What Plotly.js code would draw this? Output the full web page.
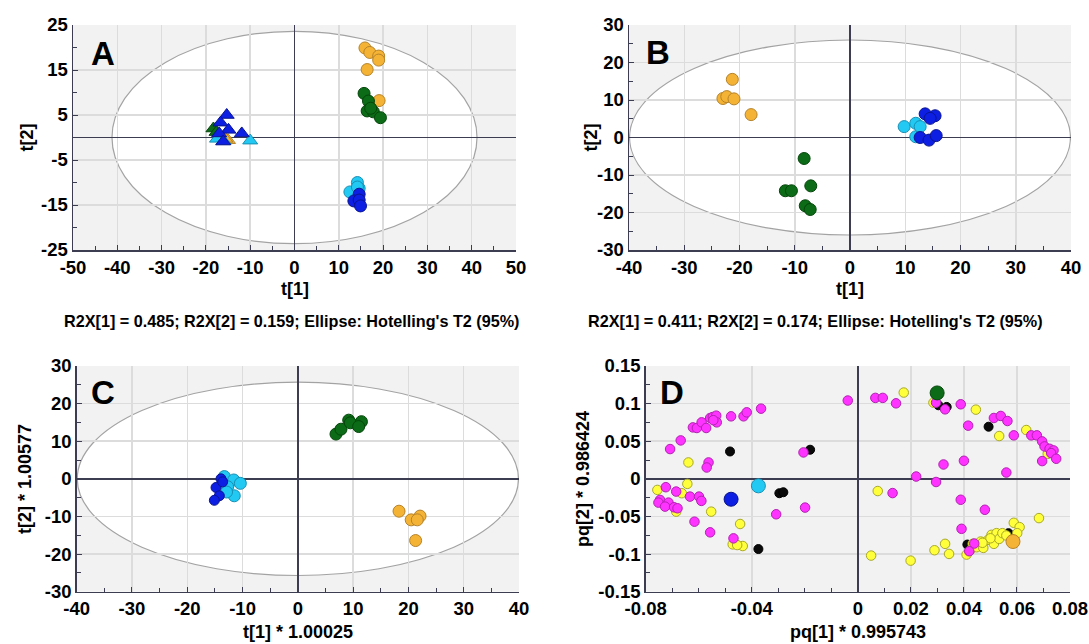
<!DOCTYPE html>
<html>
<head>
<meta charset="utf-8">
<script src="https://cdn.plot.ly/plotly-3.0.1.min.js"></script>
<style>html,body{margin:0;padding:0;background:#fff;}#chart{width:1089px;height:644px;}</style>
</head>
<body>
<div id="chart"></div>
<script>
// ---------- Panel A (scores, t[1] vs t[2]) ----------
const aOrangeX = [15.9, 17.0, 19.0, 19.0, 16.4, 19.1];
const aOrangeY = [19.9, 18.9, 18.1, 17.2, 15.1, 8.2];
const aGreenX = [15.7, 16.7, 16.4, 17.8, 19.4, 17.2];
const aGreenY = [9.8, 8.1, 5.9, 5.7, 4.4, 6.5];
const aCyanX = [14.2, 12.5, 14.6, 14.2];
const aCyanY = [-10.0, -12.1, -11.3, -11.0];
const aBlueX = [14.6, 13.4, 14.6, 14.9];
const aBlueY = [-12.6, -14.1, -13.9, -15.2];
const aTriGreenX = [-18.3, -17.6, -17.0];
const aTriGreenY = [2.0, 1.2, 0.2];
const aTriOrangeX = [-15.0, -15.6];
const aTriOrangeY = [-0.6, -0.3];
const aTriCyanX = [-10.0, -17.5, -16.0];
const aTriCyanY = [-0.7, -0.3, -0.8];
const aTriBlueX = [-15.3, -16.7, -14.9, -11.9, -17.0, -16.1];
const aTriBlueY = [5.0, 3.3, 1.7, 0.9, 0.9, -0.9];
const aEllipse = [41.2, 23.6];
const aXTicks = [-50, -40, -30, -20, -10, 0, 10, 20, 30, 40, 50];
const aYTicks = [-25, -15, -5, 5, 15, 25];
const aYMinor = [-20, -10, 0, 10, 20];

// ---------- Panel B ----------
const bOrangeX = [-21.3, -23.0, -22.3, -21.0, -17.9];
const bOrangeY = [15.5, 10.4, 10.9, 10.3, 6.1];
const bGreenX = [-8.3, -11.7, -10.6, -7.1, -8.1, -7.2];
const bGreenY = [-5.6, -14.2, -14.2, -12.9, -18.2, -19.2];
const bCyanX = [9.8, 11.9, 11.9, 12.7];
const bCyanY = [2.9, 3.8, 0.2, 2.9];
const bBlueX = [13.6, 15.4, 14.5, 12.7, 14.3, 15.6];
const bBlueY = [6.3, 5.8, 5.1, 0.0, -0.7, 0.5];
const bEllipse = [39.9, 26.0];
const bXTicks = [-40, -30, -20, -10, 0, 10, 20, 30, 40];
const bYTicks = [-30, -20, -10, 0, 10, 20, 30];

// ---------- Panel C ----------
const cGreenX = [6.9, 7.8, 9.2, 9.5, 11.5, 11.0];
const cGreenY = [11.9, 13.2, 15.6, 14.9, 15.2, 13.9];
const cOrangeX = [18.3, 20.5, 22.1, 21.6, 21.3];
const cOrangeY = [-8.6, -10.9, -9.9, -10.9, -16.4];
const cCyanX = [-13.3, -11.6, -10.4, -12.7, -11.5, -12.9];
const cCyanY = [0.6, -0.3, -1.2, -2.1, -4.5, -3.5];
const cBlueX = [-13.9, -14.8, -14.2, -15.1, -13.6];
const cBlueY = [0.0, -2.3, -4.5, -5.7, -0.8];
const cEllipse = [39.9, 25.7];
const cXTicks = [-40, -30, -20, -10, 0, 10, 20, 30, 40];
const cYTicks = [-30, -20, -10, 0, 10, 20, 30];

// ---------- Panel D (loadings) ----------
const dMagentaX = [-0.0708, -0.0668, -0.0622, -0.0607, -0.0589, -0.0572, -0.0557, -0.0547, -0.0534, -0.0532, -0.0545, -0.0478, -0.0431, -0.0419, -0.0365, -0.0038,
  -0.0563, -0.0570, -0.0205,
  -0.0724, -0.0685, -0.0746, -0.0752, -0.0714, -0.0727, -0.0693, -0.0680, -0.0633, -0.0599, -0.0590, -0.0616, -0.0557, -0.0469, -0.0308, -0.0199,
  0.0066, 0.0094, 0.0144, 0.0295, 0.0329, 0.0388, 0.0416, 0.0513, 0.0539, 0.0564, 0.0588, 0.0654, 0.0675, 0.0695, 0.0704, 0.0723, 0.0738, 0.0729, 0.0748, 0.0695,
  0.0323, 0.0400, 0.0560, 0.0220, 0.0295, 0.0131, 0.0388, 0.0479, 0.0391, 0.0439, 0.0420];
const dMagentaY = [0.0396, 0.0511, 0.0684, 0.0676, 0.0751, 0.0676, 0.0809, 0.0822, 0.0840, 0.0751, 0.0780, 0.0831, 0.0831, 0.0884, 0.0933, 0.1041,
  0.0218, 0.0151, 0.0351,
  -0.0111, -0.0169, -0.0280, -0.0316, -0.0316, -0.0369, -0.0378, -0.0391, -0.0236, -0.0236, -0.0293, -0.0569, -0.0711, -0.0791, -0.0471, -0.0382,
  0.1076, 0.1076, 0.1004, 0.1013, 0.0924, 0.0991, 0.0707, 0.0809, 0.0836, 0.0769, 0.0578, 0.0578, 0.0578, 0.0498, 0.0431, 0.0400, 0.0378, 0.0342, 0.0267, 0.0236,
  0.0191, 0.0240, 0.0084, 0.0031, -0.0042, -0.0189, -0.0278, -0.0411, -0.0664, -0.0860, -0.0962];
const dYellowX = [-0.0639, -0.0643, -0.0756, -0.0664, -0.0685, -0.0553, -0.0444, -0.0472, -0.0434, -0.0455,
  0.0173, 0.0285, 0.0445, 0.0533, 0.0635, 0.0716, 0.0075, 0.0050, 0.0199, 0.0289, 0.0329, 0.0344, 0.0410, 0.0423, 0.0433, 0.0448, 0.0463, 0.0473, 0.0491, 0.0504, 0.0513, 0.0523, 0.0533, 0.0545, 0.0560, 0.0588, 0.0610, 0.0601, 0.0683, 0.0500, 0.0470];
const dYellowY = [0.0218, -0.0067, -0.0147, -0.0191, -0.0436, -0.0436, -0.0600, -0.0871, -0.0893, -0.0880,
  0.1147, 0.1013, 0.0920, 0.0569, 0.0649, 0.0333, -0.0162, -0.1020, -0.1087, -0.0949, -0.0864, -0.0998, -0.1007, -0.0953, -0.0864, -0.0909, -0.0833, -0.0918, -0.0811, -0.0744, -0.0864, -0.0722, -0.0798, -0.0722, -0.0753, -0.0584, -0.0642, -0.0722, -0.0522, -0.0790, -0.0850];
const dBlackX = [-0.0482, -0.0180, -0.0296, -0.0281, -0.0375, 0.0304, 0.0335, 0.0493, 0.0568, 0.0413];
const dBlackY = [0.0364, 0.0387, -0.0191, -0.0178, -0.0933, 0.0978, 0.0956, 0.0693, -0.0722, -0.0873];
const dGroupX = [0.0299, -0.0478, -0.0375, 0.0585];
const dGroupY = [0.1142, -0.0271, -0.0093, -0.0833];
const dGroupNames = ['green', 'blue', 'cyan', 'orange'];
const dXTicks = [-0.08, -0.04, 0, 0.02, 0.04, 0.06, 0.08];
const dXTickText = ['-0.08', '-0.04', '0', '0.02', '0.04', '0.06', '0.08'];
const dYTicks = [-0.15, -0.1, -0.05, 0, 0.05, 0.1, 0.15];
const dYTickText = ['-0.15', '-0.1', '-0.05', '0', '0.05', '0.1', '0.15'];

const R2X_A = "R2X[1] = 0.485; R2X[2] = 0.159; Ellipse: Hotelling's T2 (95%)";
const R2X_B = "R2X[1] = 0.411; R2X[2] = 0.174; Ellipse: Hotelling's T2 (95%)";

// ---------- styles ----------
const FONT = 'Liberation Sans, Arial, Helvetica, sans-serif';
const COL = {
  orange: ['#f5b335', '#b5832a'],
  green: ['#0b6b16', '#05460b'],
  cyan: ['#21c9f3', '#1890b5'],
  blue: ['#0c1fe3', '#0a1490'],
  magenta: ['#ff33ff', '#b022b0'],
  yellow: ['#ffff3c', '#a8a82a'],
  black: ['#0a0a0a', '#000000']
};
const W = 1089, H = 644;
const bold = s => '<b>' + s + '</b>';

function pts(x, y, color, size, xa, ya, symbol) {
  return {
    type: 'scatter', mode: 'markers', x: x, y: y, xaxis: xa, yaxis: ya,
    hoverinfo: 'x+y', showlegend: false,
    marker: { color: COL[color][0], size: size, symbol: symbol || 'circle',
              line: { color: COL[color][1], width: 1 } }
  };
}

const data = [
  pts(aOrangeX, aOrangeY, 'orange', 12, 'x', 'y'),
  pts(aGreenX, aGreenY, 'green', 12, 'x', 'y'),
  pts(aCyanX, aCyanY, 'cyan', 12, 'x', 'y'),
  pts(aBlueX, aBlueY, 'blue', 12, 'x', 'y'),
  pts(aTriGreenX, aTriGreenY, 'green', 13, 'x', 'y', 'triangle-up'),
  pts(aTriOrangeX, aTriOrangeY, 'orange', 13, 'x', 'y', 'triangle-up'),
  pts(aTriCyanX, aTriCyanY, 'cyan', 13, 'x', 'y', 'triangle-up'),
  pts(aTriBlueX, aTriBlueY, 'blue', 13, 'x', 'y', 'triangle-up'),

  pts(bOrangeX, bOrangeY, 'orange', 12, 'x2', 'y2'),
  pts(bGreenX, bGreenY, 'green', 12, 'x2', 'y2'),
  pts(bCyanX, bCyanY, 'cyan', 12, 'x2', 'y2'),
  pts(bBlueX, bBlueY, 'blue', 12, 'x2', 'y2'),

  pts(cGreenX, cGreenY, 'green', 12, 'x3', 'y3'),
  pts(cOrangeX, cOrangeY, 'orange', 12, 'x3', 'y3'),
  pts(cCyanX, cCyanY, 'cyan', 12, 'x3', 'y3'),
  pts(cBlueX, cBlueY, 'blue', 10, 'x3', 'y3'),

  pts(dBlackX, dBlackY, 'black', 9, 'x4', 'y4'),
  pts(dYellowX, dYellowY, 'yellow', 9.5, 'x4', 'y4'),
  pts(dMagentaX, dMagentaY, 'magenta', 9.5, 'x4', 'y4'),
  {
    type: 'scatter', mode: 'markers', x: dGroupX, y: dGroupY, xaxis: 'x4', yaxis: 'y4',
    showlegend: false, hoverinfo: 'x+y',
    marker: { size: 14, color: dGroupNames.map(n => COL[n][0]),
              line: { color: dGroupNames.map(n => COL[n][1]), width: 1 } }
  }
];

const tickFont = { family: FONT, size: 18.5, color: '#000', weight: 'bold' };
const AXC = '#3d3d52';
function xAx(domain, range, tickvals, ticktext, minorDtick, anchor) {
  return {
    domain: domain, range: range, anchor: anchor, tickmode: 'array', tickvals: tickvals,
    ticktext: (ticktext || tickvals.map(String)).map(bold),
    showgrid: true, gridcolor: '#dcdcdc', gridwidth: 1.5,
    zeroline: true, zerolinecolor: AXC, zerolinewidth: 1.5,
    showline: true, linecolor: AXC, linewidth: 1.5, mirror: false,
    ticks: 'inside', ticklen: 5, tickcolor: AXC, tickwidth: 1,
    tickfont: tickFont, fixedrange: true,
    minor: { dtick: minorDtick, ticks: 'inside', ticklen: 4, tickcolor: AXC, showgrid: false }
  };
}
function yAx(domain, range, tickvals, ticktext, minor, anchor) {
  const ax = xAx(domain, range, tickvals, ticktext, null, anchor);
  ax.minor = Object.assign({ ticks: 'inside', ticklen: 4, tickcolor: AXC, showgrid: false }, minor);
  return ax;
}
function px2x(p) { return p / W; }
function px2y(p) { return 1 - p / H; }

const domA = { x: [px2x(73), px2x(516)], y: [px2y(250), px2y(25)] };
const domB = { x: [px2x(629), px2x(1071)], y: [px2y(250), px2y(25)] };
const domC = { x: [px2x(76.7), px2x(519)], y: [px2y(591.7), px2y(366)] };
const domD = { x: [px2x(645.7), px2x(1070)], y: [px2y(591.7), px2y(366)] };

function ellipse(xr, yr, ab) {
  return { type: 'circle', xref: xr, yref: yr, x0: -ab[0], x1: ab[0], y0: -ab[1], y1: ab[1],
           fillcolor: '#ffffff', line: { color: '#a3a3a3', width: 1.2 }, layer: 'below' };
}

function ann(text, xp, yp, size, angle) {
  return { text: bold(text), xref: 'paper', yref: 'paper', x: px2x(xp), y: px2y(yp),
           xanchor: 'center', yanchor: 'middle', showarrow: false, textangle: angle || 0,
           font: { family: FONT, size: size, color: '#000' } };
}

const layout = {
  width: W, height: H, autosize: false,
  margin: { l: 0, r: 0, t: 0, b: 0, pad: 0 },
  paper_bgcolor: '#ffffff', plot_bgcolor: '#f2f2f2',
  showlegend: false, hovermode: 'closest',
  font: { family: FONT, color: '#000' },
  xaxis: xAx(domA.x, [-50, 50], aXTicks, null, 5, 'y'),
  yaxis: yAx(domA.y, [-25, 25], aYTicks, null, { tickmode: 'array', tickvals: aYMinor }, 'x'),
  xaxis2: xAx(domB.x, [-40, 40], bXTicks, null, 5, 'y2'),
  yaxis2: yAx(domB.y, [-30, 30], bYTicks, null, { dtick: 5 }, 'x2'),
  xaxis3: xAx(domC.x, [-40, 40], cXTicks, null, 5, 'y3'),
  yaxis3: yAx(domC.y, [-30, 30], cYTicks, null, { dtick: 5 }, 'x3'),
  xaxis4: xAx(domD.x, [-0.08, 0.08], dXTicks, dXTickText, 0.01, 'y4'),
  yaxis4: yAx(domD.y, [-0.15, 0.15], dYTicks, dYTickText, { dtick: 0.025 }, 'x4'),
  shapes: [
    ellipse('x', 'y', aEllipse),
    ellipse('x2', 'y2', bEllipse),
    ellipse('x3', 'y3', cEllipse)
  ],
  annotations: [
    ann('A', 103, 53, 33), ann('B', 658, 52, 33), ann('C', 103, 392, 33), ann('D', 672, 392, 33),
    ann('t[1]', 294.5, 289, 18), ann('t[2]', 26, 137.5, 18, -90),
    ann('t[1]', 850, 289, 18), ann('t[2]', 590, 137.5, 18, -90),
    ann(R2X_A, 291, 321, 16.2), ann(R2X_B, 815, 321, 16.2),
    ann('t[1] * 1.00025', 298, 632, 18), ann('t[2] * 1.00577', 25, 479, 18, -90),
    ann('pq[1] * 0.995743', 858, 632, 18), ann('pq[2] * 0.986424', 583, 479, 18, -90)
  ]
};

Plotly.newPlot('chart', data, layout, { displayModeBar: false, staticPlot: true });
</script>
</body>
</html>
